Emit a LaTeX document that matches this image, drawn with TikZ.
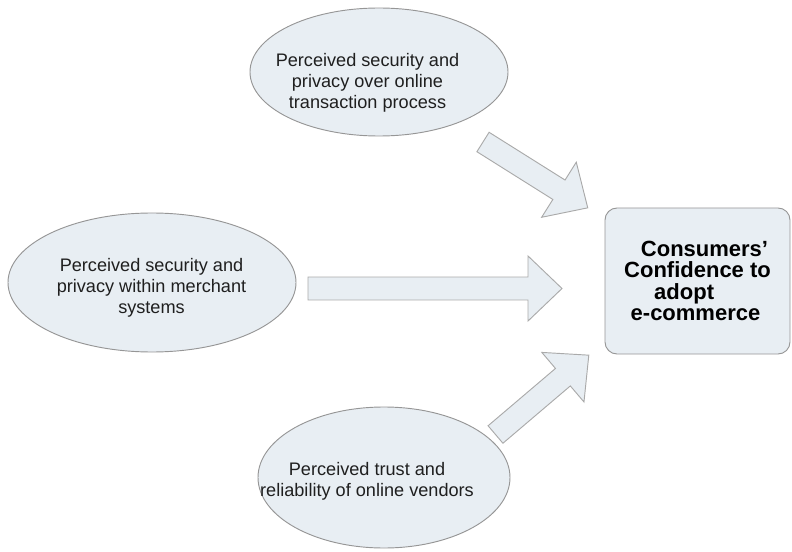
\documentclass[tikz,border=0pt]{standalone}
\usepackage{fontspec}
\setmainfont{Liberation Sans}
\usetikzlibrary{shapes.geometric,calc}
\definecolor{bubble}{RGB}{232,238,243}
\definecolor{rim}{RGB}{150,150,150}
\definecolor{arrowrim}{RGB}{170,170,170}

\newcommand{\bigarrow}[2]{%
  \draw[blockarrow] let \p1=($(#2)-(#1)$), \n1={atan2(\y1,\x1)},
      \n2={veclen(\x1,\y1)}, \n3={veclen(\x1,\y1)-25.5pt} in
    [shift={(#1)}, rotate=\n1]
    (0pt,8.6pt) -- (\n3,8.6pt) -- (\n3,24.4pt) -- (\n2,0pt)
    -- (\n3,-24.4pt) -- (\n3,-8.6pt) -- (0pt,-8.6pt) -- cycle;}

\begin{document}
\begin{tikzpicture}[x=0.75pt, y=-0.75pt,
    factor/.style={ellipse, draw=rim, fill=bubble, line width=0.7pt, inner sep=0pt},
    blockarrow/.style={draw=arrowrim, fill=bubble, line width=0.7pt, line join=miter}]
    \tikzset{words/.style={align=center, font=\fontsize{13.6}{15.8}\selectfont, text=black!88}};
    \tikzset{goal/.style={rectangle, rounded corners=9pt, draw=rim, fill=bubble, line width=0.7pt,
        minimum width=138.75pt, minimum height=109.5pt, inner sep=0pt, align=center,
        font=\fontsize{16.5}{16}\selectfont\bfseries}};
    \useasboundingbox (0,0) rectangle (792,552);

    \node[factor, minimum width=193.5pt, minimum height=96pt] (f1) at (379,72) {};
    \node[words] (t1) at (367.5,83) {Perceived security and\\privacy over online\\transaction process};
    \node[factor, minimum width=216pt, minimum height=104.25pt] (f2) at (152,282.5) {};
    \node[words] (t2) at (151.5,288) {Perceived security and\\privacy within merchant\\systems};
    \node[factor, minimum width=189pt, minimum height=105.75pt] (f3) at (384,477.5) {};
    \node[words] (t3) at (367,481) {Perceived trust and\\reliability of online vendors};

    \node[goal] (conf) at (697.5,281) {\rule{10.5pt}{0pt}Consumers’\\Confidence to\\adopt\rule{20pt}{0pt}\\e-commerce\rule{3pt}{0pt}};

    \coordinate (a1) at (483,142);
    \coordinate (b1) at (588,208);
    \coordinate (a2) at (308,288.5);
    \coordinate (b2) at (562,288.5);
    \coordinate (a3) at (495.5,434.5);
    \coordinate (b3) at (589,355);

    \bigarrow{a1}{b1}
    \bigarrow{a2}{b2}
    \bigarrow{a3}{b3}
\end{tikzpicture}
\end{document}
